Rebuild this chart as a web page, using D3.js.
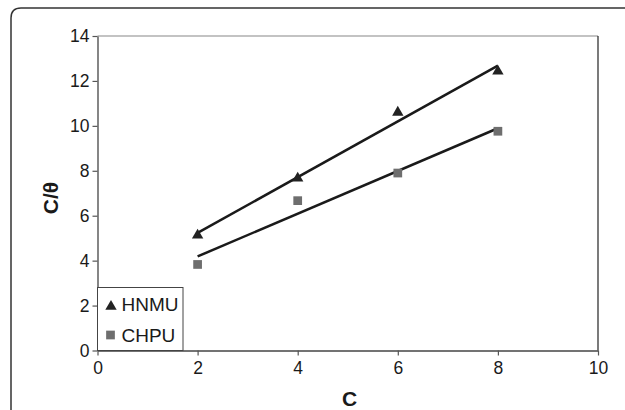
<!DOCTYPE html>
<html>
<head>
<meta charset="utf-8">
<script src="https://cdn.jsdelivr.net/npm/d3@7"></script>
<style>
  body { margin: 0; background: #fff; }
  svg { display: block; font-family: "Liberation Sans", Arial, sans-serif; }
</style>
</head>
<body>
<svg id="chart" width="625" height="410"></svg>
<script>
const concentrations = [2, 4, 6, 8];
const hnmu = [5.13, 7.67, 10.6, 12.43];
const chpu = [3.83, 6.67, 7.9, 9.76];
const xTicks = [0, 2, 4, 6, 8, 10];
const yTicks = [0, 2, 4, 6, 8, 10, 12, 14];
const seriesNames = ["HNMU", "CHPU"];

const svg = d3.select("#chart");

// cadre extérieur (coupé à droite et en bas)
svg.append("path")
  .attr("d", "M11,412 L11,18 Q11,8 21,8 L627,8")
  .attr("fill", "none")
  .attr("stroke", "#333")
  .attr("stroke-width", 1.5);

const margin = { top: 36, left: 97.5 };
const width = 500.5, height = 314.5;

const x = d3.scaleLinear().domain([0, 10]).range([margin.left, margin.left + width]);
const y = d3.scaleLinear().domain([0, 14]).range([margin.top + height, margin.top]);

// bord de la zone de tracé
svg.append("line")
  .attr("x1", x(0)).attr("x2", x(10)).attr("y1", y(14)).attr("y2", y(14))
  .attr("stroke", "#888").attr("stroke-width", 1.2);
svg.append("line")
  .attr("x1", x(10)).attr("x2", x(10)).attr("y1", y(14)).attr("y2", y(0))
  .attr("stroke", "#222").attr("stroke-width", 1.2);

const xAxis = svg.append("g")
  .attr("transform", `translate(0, ${y(0)})`)
  .call(d3.axisBottom(x).tickValues(xTicks).tickSize(5).tickPadding(6).tickSizeOuter(0));
const yAxis = svg.append("g")
  .attr("transform", `translate(${x(0)}, 0)`)
  .call(d3.axisLeft(y).tickValues(yTicks).tickSize(5).tickPadding(3).tickSizeOuter(0));

[xAxis, yAxis].forEach(g => {
  g.attr("font-size", null).attr("font-family", null);
  g.select(".domain").attr("stroke", "#444").attr("stroke-width", 1.3);
  g.selectAll(".tick line").attr("stroke", "#555").attr("stroke-width", 1.2);
  g.selectAll(".tick text").style("font-size", "17.5px").attr("fill", "#1a1a1a")
    .style("font-family", "'Liberation Sans', Arial, sans-serif");
});

// droites de régression
const fit = (xs, ys) => {
  const mx = d3.mean(xs), my = d3.mean(ys);
  const b = d3.sum(xs, (v, i) => (v - mx) * (ys[i] - my)) / d3.sum(xs, v => (v - mx) ** 2);
  return v => my + b * (v - mx);
};

[hnmu, chpu].forEach(vals => {
  const f = fit(concentrations, vals);
  const x0 = d3.min(concentrations), x1 = d3.max(concentrations);
  svg.append("line")
    .attr("x1", x(x0)).attr("y1", y(f(x0)))
    .attr("x2", x(x1)).attr("y2", y(f(x1)))
    .attr("stroke", "#1a1a1a").attr("stroke-width", 2.5);
});

const tri = d3.symbol().type(d3.symbolTriangle).size(56);
const sq = d3.symbol().type(d3.symbolSquare).size(76);

svg.selectAll(".hnmu")
  .data(concentrations)
  .enter()
  .append("path")
  .attr("transform", (d, i) => `translate(${x(d)}, ${y(hnmu[i])})`)
  .attr("d", tri)
  .attr("fill", "#222");

svg.selectAll(".chpu")
  .data(concentrations)
  .enter()
  .append("path")
  .attr("transform", (d, i) => `translate(${x(d)}, ${y(chpu[i])})`)
  .attr("d", sq)
  .attr("fill", "#6e6e6e");

// légende
const legend = svg.append("g");
legend.append("rect")
  .attr("x", x(0)).attr("y", 287.5)
  .attr("width", 85.5).attr("height", y(0) - 287.5)
  .attr("fill", "#fff").attr("stroke", "#444").attr("stroke-width", 1);
legend.append("path").attr("d", tri).attr("fill", "#222")
  .attr("transform", "translate(111, 306.5)");
legend.append("path").attr("d", sq).attr("fill", "#6e6e6e")
  .attr("transform", "translate(110.5, 335)");
legend.append("text").attr("x", 121.5).attr("y", 311).style("font-size", "19px").attr("fill", "#1a1a1a").text(seriesNames[0]);
legend.append("text").attr("x", 121.5).attr("y", 341.5).style("font-size", "19px").attr("fill", "#1a1a1a").text(seriesNames[1]);

// titres des axes
svg.append("text")
  .attr("x", 349.5).attr("y", 406)
  .attr("text-anchor", "middle")
  .style("font-size", "21px").attr("font-weight", "bold").attr("fill", "#1a1a1a")
  .text("C");

svg.append("text")
  .attr("transform", "translate(57.5, 198) rotate(-90)")
  .attr("text-anchor", "middle")
  .style("font-size", "21px").attr("font-weight", "bold").attr("fill", "#1a1a1a")
  .text("C/θ");
</script>
</body>
</html>
